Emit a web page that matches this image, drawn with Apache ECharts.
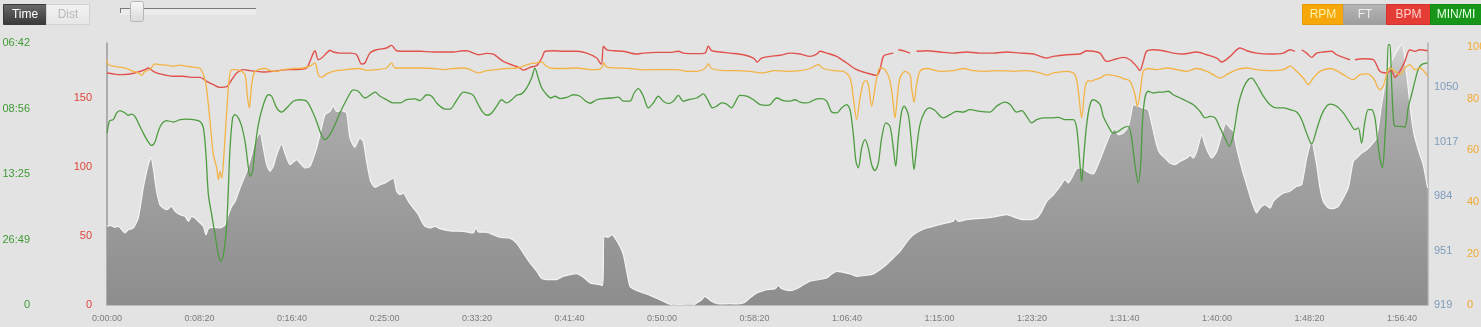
<!DOCTYPE html>
<html>
<head>
<meta charset="utf-8">
<script src="https://cdn.jsdelivr.net/npm/echarts@6/dist/echarts.min.js"></script>
<style>
html,body{margin:0;padding:0;background:#e3e3e3;}
#chart{width:1481px;height:327px;}
</style>
</head>
<body>
<div id="chart"></div>
<script>
// ---------- data (time in seconds) ----------
const ftPoints = [[0,966.4],[16,967.0],[43,965.8],[61,966.4],[97,962.4],[115,964.3],[142,965.4],[169,971.4],[196,989.5],[223,1003.5],[238,1007.9],[250,1001.5],[268,987.5],[286,979.4],[304,977.4],[322,976.4],[349,978.4],[368,975.4],[395,973.4],[422,972.4],[440,969.4],[458,972.4],[476,971.4],[503,968.4],[521,966.4],[535,961.3],[548,965],[575,965.8],[611,965.4],[638,967.4],[656,973.4],[674,978.4],[692,981.4],[719,989.5],[755,999.5],[782,1009.5],[800,1017.6],[827,1022.6],[845,1013.5],[863,1003.5],[881,999.5],[899,1002.5],[917,1009.5],[944,1016],[962,1010.5],[989,1003.5],[1007,1005.1],[1025,1006.5],[1043,1004.5],[1070,1001.5],[1097,1002.5],[1115,1007.5],[1133,1013.5],[1151,1021.6],[1178,1033.6],[1205,1035.6],[1223,1039],[1241,1035.6],[1268,1036],[1295,1034.6],[1313,1019.6],[1340,1014],[1367,1019.6],[1385,1017.6],[1403,1005.5],[1425,993.5],[1449,989.9],[1476,991.4],[1503,992.5],[1530,994.5],[1548,995.5],[1566,987.5],[1584,985.4],[1602,986.4],[1629,981.4],[1656,977.4],[1683,973.4],[1701,969.4],[1719,966.4],[1746,965.4],[1773,966.4],[1800,965],[1854,963.7],[1926,963.4],[1980,962.4],[1994,965.8],[2007,963],[2052,962.8],[2088,961.3],[2124,959.8],[2178,959.3],[2214,956.3],[2250,950.3],[2286,944.3],[2323,939.3],[2350,934.9],[2377,934.3],[2431,934.3],[2466,936.3],[2503,937.3],[2539,937.9],[2575,935.7],[2611,932.2],[2647,931.6],[2679,930.8],[2686,960.4],[2710,959.8],[2728,961.3],[2746,959.3],[2773,954.3],[2791,949.3],[2809,939.3],[2827,930.2],[2854,928.2],[2899,926.2],[2935,924.8],[2989,922.2],[3025,920.2],[3061,919],[3097,919.2],[3133,919],[3169,919],[3187,920.2],[3214,922.2],[3232,924.2],[3250,922.8],[3268,921.2],[3286,920.2],[3313,919.6],[3367,919.8],[3404,919.6],[3440,920.2],[3475,923.2],[3512,926.2],[3547,927.6],[3566,928.2],[3611,928.8],[3628,930.8],[3647,928.8],[3692,927.6],[3728,928.8],[3764,931.2],[3800,933.3],[3845,934.3],[3890,935.3],[3917,937.7],[3944,939.3],[3980,938.7],[4016,937.7],[4052,936.3],[4106,936.9],[4142,937.7],[4178,940.3],[4214,943.3],[4250,947.3],[4286,951.3],[4322,956.9],[4358,961.3],[4394,963.7],[4430,965.4],[4484,967],[4538,968.4],[4574,969.4],[4583,971.4],[4601,969.4],[4646,970.4],[4700,971],[4754,971.4],[4808,972.4],[4863,973.4],[4917,971.4],[4953,970.4],[4989,970.4],[5025,971.4],[5052,975.4],[5079,981.4],[5115,985.4],[5151,990.5],[5178,994.5],[5196,992.5],[5214,995.5],[5241,1001.1],[5268,1001.5],[5295,999.5],[5331,997.9],[5349,1001.5],[5385,1011.5],[5421,1021.6],[5448,1025.2],[5466,1021.6],[5493,1022.6],[5520,1026.6],[5538,1035.6],[5547,1039.6],[5574,1038.7],[5601,1037.6],[5628,1036.6],[5646,1028.6],[5673,1015.5],[5691,1010.5],[5718,1007.5],[5745,1004.5],[5772,1003.5],[5800,1005.5],[5836,1007.5],[5854,1009.1],[5872,1007.5],[5890,1011.5],[5917,1021.6],[5935,1015.5],[5953,1010.5],[5971,1007.5],[5998,1011.5],[6025,1021.6],[6048,1028.6],[6070,1025.6],[6088,1023.6],[6106,1013.5],[6133,1001.5],[6160,991.4],[6187,981.4],[6214,974.4],[6232,977.4],[6259,979.4],[6286,977.4],[6304,981.4],[6331,984.4],[6358,986.4],[6394,987.5],[6430,990.5],[6457,991.4],[6484,1007.5],[6511,1017.6],[6538,1003.5],[6556,989.5],[6574,981.4],[6601,977.4],[6628,977],[6655,978.4],[6682,983.4],[6709,989.5],[6736,1005.5],[6754,1007.5],[6781,1010.5],[6808,1012.5],[6835,1015.5],[6862,1019.6],[6889,1039.6],[6907,1051.7],[6925,1061.7],[6943,1065.8],[6961,1069.7],[6988,1074.8],[7002,1075.8],[7015,1067.7],[7033,1049.7],[7051,1031.6],[7069,1019.6],[7096,1009.5],[7114,1003.5],[7138,989.5]];

const bpmPoints = [[0,167.9],[34,167.2],[70,166.7],[124,167.2],[169,168.6],[205,170.3],[223,171.5],[250,169.1],[286,167.2],[322,166.2],[358,165.5],[412,165.5],[467,164.7],[503,164.7],[539,161.8],[575,159.4],[611,157.5],[647,158],[674,163],[701,167.9],[737,170.3],[773,169.6],[809,169.1],[845,168.6],[899,169.1],[935,169.8],[989,170.3],[1043,170.5],[1079,171.5],[1097,176.3],[1115,182.3],[1124,184],[1142,177.5],[1160,178.7],[1187,182.3],[1205,184.3],[1223,183.1],[1259,182.3],[1313,182.3],[1349,181.1],[1376,174.4],[1394,175.1],[1421,182.3],[1457,184.7],[1511,186],[1538,187.9],[1565,184],[1619,183.6],[1692,183.6],[1764,183.1],[1818,183.1],[1872,183.1],[1926,184],[1944,184],[1980,182.3],[2007,181.1],[2052,182.1],[2088,181.6],[2106,179.9],[2142,176.3],[2196,173.4],[2232,171.5],[2250,170],[2286,172],[2323,173.4],[2350,178.7],[2368,183.6],[2413,184],[2467,183.6],[2539,183.6],[2593,182.3],[2647,178.7],[2665,175.1],[2674,174.4],[2683,187.2],[2701,184.7],[2737,184],[2791,183.6],[2863,181.6],[2899,182.3],[2971,182.8],[3043,182.8],[3088,183.6],[3115,182.3],[3187,181.9],[3232,182.3],[3250,187.2],[3268,184],[3313,183.1],[3367,182.3],[3440,181.1],[3494,178.7],[3515,175.8],[3538,178.7],[3584,179.9],[3638,180.7],[3692,182.3],[3746,181.6],[3800,179.9],[3836,181.6],[3854,183.6],[3890,182.3],[3944,179.9],[3998,175.1],[4052,170.3],[4106,167.9],[4160,166.2],[4178,170.3],[4196,179.9],[4223,181.6],[4250,182.3],[4262,null],[4277,184.7],[4304,184],[4340,182.3],[4358,null],[4376,183.6],[4430,184],[4502,183.1],[4574,182.3],[4646,183.1],[4718,182.3],[4790,182.3],[4863,183.1],[4935,182.3],[5007,181.6],[5079,178.7],[5115,179.9],[5187,181.1],[5259,181.6],[5295,184],[5331,183.6],[5367,182.3],[5403,176.3],[5457,178.2],[5493,179.2],[5529,177.5],[5565,172.7],[5583,169.6],[5601,176.3],[5619,183.6],[5655,184.7],[5709,184],[5763,182.3],[5817,181.6],[5890,183.1],[5944,181.1],[5998,178.7],[6025,175.8],[6070,179.9],[6124,186],[6160,184],[6214,182.3],[6286,181.6],[6358,182.3],[6394,184.7],[6421,183.6],[6439,null],[6457,184.7],[6484,182.3],[6511,179.2],[6538,182.3],[6574,183.1],[6619,183.6],[6646,181.1],[6682,179.2],[6718,177.5],[6731,null],[6745,177.5],[6790,178.2],[6844,177.5],[6880,169.1],[6916,167.9],[6943,169.6],[6961,164.7],[6988,169.1],[7015,176.3],[7042,184.7],[7069,183.6],[7096,184.7],[7138,184]];

const rpmPoints = [[0,95.3],[7,93.3],[34,92.7],[70,92.3],[106,91.8],[142,90.7],[169,90.1],[187,89.2],[205,90.7],[232,91.4],[259,93.6],[286,93.3],[322,93.1],[358,92.7],[395,93.1],[431,92.7],[467,92.3],[503,91.8],[521,89.4],[535,85.6],[548,77.8],[562,67.4],[575,58.4],[593,53.2],[602,48.7],[611,51.9],[620,49.3],[632,58.4],[647,75.2],[661,88.1],[674,91.4],[701,91.4],[728,90.7],[746,89.4],[760,80.4],[769,76.5],[782,85.6],[795,90.1],[818,91.4],[854,91.8],[881,91],[917,90.7],[953,91.4],[1007,91.8],[1061,92],[1097,92.7],[1124,94],[1142,89.4],[1160,88.4],[1187,89.7],[1223,90.7],[1295,91.4],[1367,91.8],[1403,91.1],[1457,91.4],[1511,92],[1538,94],[1556,92],[1619,92],[1692,92],[1764,91.8],[1818,91.4],[1872,91.8],[1926,92],[1962,91.4],[2007,90.1],[2052,91],[2106,91.4],[2160,91.8],[2214,92],[2250,92.7],[2286,93.6],[2323,94],[2350,94.4],[2368,93.1],[2395,92],[2467,91.8],[2539,92],[2611,91.4],[2665,91.6],[2679,92.7],[2686,94],[2701,92.3],[2755,92],[2827,91.8],[2899,91.3],[3007,91.4],[3079,91.4],[3133,90.7],[3187,90.7],[3232,91.8],[3250,93.6],[3268,91.8],[3331,91],[3404,91],[3475,90.7],[3547,90.1],[3584,90.7],[3601,91],[3674,90.7],[3746,91],[3800,91.8],[3845,93.3],[3872,91.8],[3926,91],[3980,90.7],[4016,88.1],[4034,80.4],[4052,72],[4070,80.4],[4088,86.2],[4102,87.1],[4115,85.6],[4133,77.1],[4151,84.3],[4164,89.4],[4178,92],[4205,91.4],[4232,86.9],[4246,80.4],[4259,72.6],[4272,81],[4286,88.1],[4313,90.7],[4340,89.4],[4349,84.3],[4362,78.7],[4376,85.6],[4394,90.7],[4430,91.8],[4502,90.7],[4574,91],[4628,91.8],[4682,91],[4754,90.7],[4826,91],[4899,90.7],[4971,91],[5043,90.1],[5079,89.2],[5115,90.1],[5187,90.7],[5232,89.4],[5250,83],[5268,72.6],[5286,84.3],[5304,87.1],[5322,86.9],[5340,87.5],[5367,88.1],[5403,89.4],[5457,88.8],[5493,87.9],[5529,86.9],[5556,81.7],[5569,77.1],[5583,81.7],[5601,90.7],[5628,91.8],[5673,91.4],[5727,92],[5781,91.4],[5836,90.7],[5890,91.8],[5944,90.7],[5980,89.4],[6016,88.1],[6052,89.4],[6106,91.4],[6160,92],[6214,91.4],[6286,91],[6358,91.4],[6394,92.7],[6430,90.7],[6466,88.1],[6493,85.6],[6520,88.1],[6556,90.7],[6610,91.8],[6646,91],[6682,89.4],[6736,87.5],[6772,89.4],[6808,89.7],[6844,88.1],[6880,83.6],[6898,84.9],[6916,89.4],[6934,92],[6961,90.7],[6988,89.4],[7015,92],[7042,93.3],[7069,91.4],[7096,92],[7138,88.8]];

// speed in mph (axis labels shown as pace min/mi)
const speedPoints = [[0,5.87],[10,6.22],[16,6.30],[34,6.33],[52,6.56],[70,6.64],[97,6.56],[115,6.48],[133,6.52],[151,6.44],[169,6.22],[196,5.87],[223,5.57],[241,5.45],[259,5.57],[277,5.93],[295,6.18],[322,6.30],[358,6.25],[395,6.33],[431,6.35],[467,6.33],[503,6.27],[521,6.05],[535,5.13],[548,3.77],[566,3.08],[584,2.40],[602,1.72],[616,1.49],[632,1.83],[647,2.74],[656,4.00],[665,5.36],[679,6.39],[692,6.50],[710,6.39],[728,6.10],[746,5.59],[760,4.91],[773,4.39],[787,4.57],[800,5.36],[818,6.16],[845,6.84],[872,7.18],[890,7.13],[917,6.73],[944,6.59],[971,6.73],[1007,6.96],[1043,7.01],[1079,6.96],[1106,6.67],[1133,6.27],[1155,5.87],[1178,5.65],[1205,5.82],[1232,6.16],[1259,6.56],[1295,7.01],[1331,7.35],[1358,7.30],[1394,7.07],[1421,7.16],[1449,7.27],[1476,7.13],[1511,7.01],[1548,6.90],[1584,6.90],[1619,7.01],[1665,7.04],[1692,6.98],[1728,7.18],[1755,7.13],[1782,6.90],[1800,6.79],[1827,6.69],[1854,6.69],[1881,6.90],[1908,7.16],[1926,7.27],[1953,7.24],[1980,7.16],[2007,6.84],[2034,6.56],[2056,6.48],[2079,6.56],[2106,6.79],[2133,7.01],[2160,6.90],[2187,7.01],[2214,7.16],[2241,7.21],[2268,7.41],[2295,7.75],[2313,8.09],[2331,7.75],[2350,7.41],[2377,7.18],[2398,7.07],[2422,7.13],[2449,7.05],[2485,7.09],[2521,7.18],[2557,7.13],[2584,6.98],[2611,6.89],[2647,7.01],[2683,7.05],[2728,7.07],[2764,7.10],[2791,6.96],[2827,6.96],[2849,7.24],[2872,7.39],[2899,7.13],[2926,6.73],[2953,6.90],[2980,7.13],[3007,6.96],[3034,6.88],[3061,6.96],[3088,7.16],[3115,6.96],[3142,7.01],[3187,7.07],[3223,7.21],[3250,6.96],[3273,6.73],[3295,6.79],[3322,6.90],[3349,6.86],[3376,6.73],[3394,6.90],[3421,7.16],[3458,7.13],[3494,7.01],[3530,6.84],[3566,6.82],[3584,6.84],[3620,7.07],[3656,6.98],[3692,6.96],[3719,7.01],[3746,6.93],[3782,6.90],[3809,6.96],[3836,7.04],[3863,7.05],[3890,6.96],[3917,6.59],[3944,6.56],[3971,6.73],[3998,6.84],[4016,6.67],[4034,5.82],[4048,4.91],[4061,4.68],[4079,5.36],[4097,5.65],[4115,5.36],[4133,4.79],[4151,4.59],[4169,4.85],[4187,5.70],[4210,6.22],[4232,6.10],[4250,5.36],[4263,4.74],[4277,5.70],[4295,6.61],[4308,6.79],[4331,6.50],[4349,5.48],[4362,4.62],[4376,5.36],[4394,6.16],[4421,6.61],[4448,6.73],[4475,6.64],[4520,6.39],[4556,6.50],[4592,6.61],[4628,6.59],[4664,6.67],[4718,6.61],[4772,6.59],[4808,6.79],[4853,6.93],[4880,6.86],[4917,6.59],[4944,6.64],[4971,6.44],[4998,6.22],[5025,6.33],[5061,6.39],[5106,6.39],[5142,6.41],[5178,6.33],[5223,6.33],[5241,6.05],[5255,5.13],[5268,4.22],[5280,5.13],[5295,6.16],[5313,6.84],[5331,7.01],[5367,6.85],[5385,6.44],[5412,6.10],[5439,5.87],[5466,5.93],[5493,6.05],[5520,6.10],[5538,5.70],[5556,4.79],[5574,4.17],[5587,4.79],[5597,6.27],[5610,7.07],[5628,7.30],[5655,7.24],[5682,7.27],[5709,7.27],[5736,7.30],[5763,7.18],[5800,7.07],[5836,6.96],[5872,6.84],[5908,6.61],[5935,6.39],[5962,6.44],[5989,6.39],[6016,6.05],[6043,5.70],[6066,5.42],[6088,5.82],[6115,6.84],[6142,7.41],[6169,7.70],[6187,7.75],[6214,7.53],[6250,7.13],[6286,6.84],[6322,6.73],[6358,6.73],[6394,6.67],[6430,6.59],[6457,6.33],[6484,5.87],[6511,5.50],[6538,5.99],[6565,6.50],[6592,6.79],[6610,6.86],[6646,6.79],[6682,6.56],[6718,6.22],[6745,5.99],[6763,6.05],[6781,5.53],[6799,6.27],[6817,6.67],[6835,6.67],[6853,6.39],[6866,5.70],[6880,5.02],[6894,4.68],[6907,5.70],[6916,6.84],[6925,8.89],[6934,8.89],[6943,7.64],[6956,6.16],[6970,6.10],[6997,6.10],[7015,6.07],[7033,6.73],[7051,7.18],[7069,7.64],[7087,8.04],[7105,8.21],[7138,8.27]];

// tick labels
const paceTickLabels = ['0', '26:49', '13:25', '08:56', '06:42'];
const legendLabels = ['RPM', 'FT', 'BPM', 'MIN/MI'];
const modeLabels = ['Time', 'Dist'];

// ---------- chart ----------
const chart = echarts.init(document.getElementById('chart'), null, {renderer: 'canvas'});
const FONT = '"Liberation Sans", Arial, Helvetica, sans-serif';
const SPEED_STEP = 2.237;
const FT_STEP = 919 / 28;

function fmtTime(v) {
  const h = Math.floor(v / 3600);
  const m = Math.floor((v % 3600) / 60);
  const s = Math.round(v % 60);
  return h + ':' + String(m).padStart(2, '0') + ':' + String(s).padStart(2, '0');
}

function button(x, w, fill, stroke, label, color) {
  return {
    type: 'group', left: x, top: 4,
    children: [
      {type: 'rect', shape: {x: 0, y: 0, width: w, height: 20}, style: {fill: fill, stroke: stroke, lineWidth: 1}},
      {type: 'text', x: w / 2, y: 10, style: {text: label, fill: color, font: '12px ' + FONT, textAlign: 'center', textVerticalAlign: 'middle'}}
    ]
  };
}
const grad = (a, b) => new echarts.graphic.LinearGradient(0, 0, 0, 1, [{offset: 0, color: a}, {offset: 1, color: b}]);
const areaGrad = new echarts.graphic.LinearGradient(0, 43, 0, 305, [
  {offset: 0, color: '#d4d4d4'},
  {offset: 0.25, color: '#ababab'},
  {offset: 1, color: '#8d8d8d'}
], true);

const option = {
  backgroundColor: '#e3e3e3',
  animation: false,
  grid: {left: 107, right: 53, top: 43, bottom: 22, containLabel: false, outerBoundsMode: 'none'},
  xAxis: {
    type: 'value', min: 0, max: 7140, interval: 500,
    axisLine: {show: true, lineStyle: {color: '#bcbcbc', width: 2}},
    axisTick: {show: false},
    splitLine: {show: false},
    axisLabel: {color: '#7c7c7c', fontSize: 9, fontFamily: FONT, margin: 9, showMaxLabel: false, formatter: fmtTime}
  },
  yAxis: [
    { // BPM
      type: 'value', position: 'left', min: 0, max: 189.6, interval: 50,
      axisLine: {show: true, lineStyle: {color: '#9a9a9a', width: 1.5}},
      axisTick: {show: false}, splitLine: {show: false},
      axisLabel: {color: '#e0453a', fontSize: 11, fontFamily: FONT, margin: 15, showMaxLabel: false}
    },
    { // speed shown as pace
      type: 'value', position: 'left', offset: 63, min: 0, max: SPEED_STEP * 4, interval: SPEED_STEP,
      axisLine: {show: false}, axisTick: {show: false}, splitLine: {show: false},
      axisLabel: {color: '#3f9a35', fontSize: 11, fontFamily: FONT, margin: 14,
        formatter: v => paceTickLabels[Math.round(v / SPEED_STEP)] || ''}
    },
    { // FT
      type: 'value', position: 'right', min: 919, max: 1076.8, interval: FT_STEP,
      axisLine: {show: true, lineStyle: {color: '#b0b0b0', width: 1.5}},
      axisTick: {show: false}, splitLine: {show: false},
      axisLabel: {color: '#7e9cbc', fontSize: 11, fontFamily: FONT, margin: 6, showMaxLabel: false,
        formatter: v => String(Math.floor(v + 1e-6))}
    },
    { // RPM
      type: 'value', position: 'right', offset: 33, min: 0, max: 101.7, interval: 20,
      axisLine: {show: false}, axisTick: {show: false}, splitLine: {show: false},
      axisLabel: {color: '#f0a92e', fontSize: 11, fontFamily: FONT, margin: 6, showMaxLabel: false}
    }
  ],
  series: [
    {
      name: 'FT', type: 'line', yAxisIndex: 2, data: ftPoints, symbol: 'none', smooth: 0.2,
      lineStyle: {color: '#f4f4f4', width: 1.2},
      areaStyle: {color: areaGrad, opacity: 1},
      z: 1
    },
    {
      name: 'MIN/MI', type: 'line', yAxisIndex: 1, data: speedPoints, symbol: 'none', smooth: 0.3,
      lineStyle: {color: '#4d9c40', width: 1.3}, z: 3
    },
    {
      name: 'BPM', type: 'line', yAxisIndex: 0, data: bpmPoints, symbol: 'none', smooth: 0.3, connectNulls: false,
      lineStyle: {color: '#e0524c', width: 1.4}, z: 4
    },
    {
      name: 'RPM', type: 'line', yAxisIndex: 3, data: rpmPoints, symbol: 'none', smooth: 0.3,
      lineStyle: {color: '#f3b446', width: 1.3}, z: 5
    }
  ],
  graphic: [
    // mode toggle
    button(3, 43, grad('#6a6a6a', '#383838'), '#3a3a3a', modeLabels[0], '#ffffff'),
    button(46, 43, grad('#f2f2f2', '#e6e6e6'), '#d2d2d2', modeLabels[1], '#b8b8b8'),
    // slider
    {type: 'rect', left: 120, top: 8, shape: {width: 136, height: 7}, style: {fill: '#ececec'}},
    {type: 'line', shape: {x1: 120, y1: 8.5, x2: 256, y2: 8.5}, style: {stroke: '#7a7a7a', lineWidth: 1}},
    {type: 'line', shape: {x1: 120.5, y1: 8, x2: 120.5, y2: 13}, style: {stroke: '#7a7a7a', lineWidth: 1}},
    {type: 'rect', shape: {x: 130.5, y: 1.5, width: 13, height: 20, r: 2}, style: {fill: grad('#f8f8f8', '#dadada'), stroke: '#b5b5b5', lineWidth: 1}},
    // legend buttons
    button(1302, 41, '#f6a70a', '#e59a00', legendLabels[0], '#fff1a6'),
    button(1343, 43, grad('#b6b6b6', '#9c9c9c'), '#a0a0a0', legendLabels[1], '#eeeeee'),
    button(1386, 44, '#e63c36', '#d33430', legendLabels[2], '#ffd2cc'),
    button(1430, 51, '#17961a', '#138a15', legendLabels[3], '#e6ffe6')
  ]
};
chart.setOption(option);
</script>
</body>
</html>
